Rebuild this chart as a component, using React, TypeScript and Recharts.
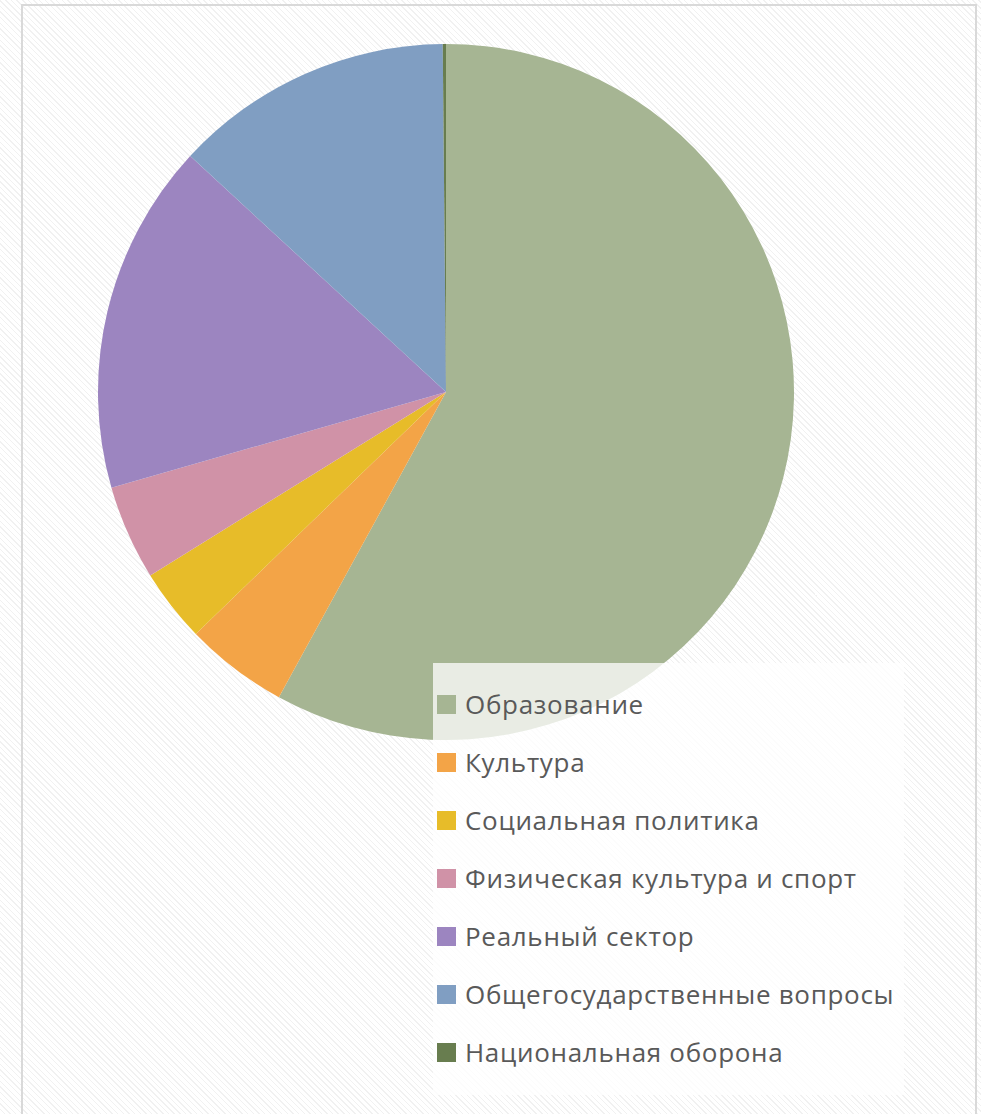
import React from 'react';
import { PieChart, Pie, Cell, Legend } from 'recharts';

const categories = [
  'Образование',
  'Культура',
  'Социальная политика',
  'Физическая культура и спорт',
  'Реальный сектор',
  'Общегосударственные вопросы',
  'Национальная оборона',
];
const shares = [58.0, 4.8, 3.4, 4.4, 16.3, 13.0, 0.15];
const colors = ['#a6b593', '#f3a447', '#e7bc29', '#d092a7', '#9c85c0', '#809ec2', '#687d4f'];

const data = categories.map((name, i) => ({ name, value: shares[i] }));

const renderLegend = () => (
  <div
    style={{
      width: '100%',
      height: '100%',
      background: 'rgba(255,255,255,0.75)',
      boxSizing: 'border-box',
      paddingTop: 12,
    }}
  >
    {categories.map((c, i) => (
      <div
        key={c}
        style={{
          display: 'flex',
          alignItems: 'center',
          height: 58,
          fontFamily: '"Open Sans", sans-serif',
          fontSize: 26,
          letterSpacing: 0.7,
          color: '#595959',
          whiteSpace: 'nowrap',
        }}
      >
        <span
          style={{
            display: 'inline-block',
            width: 19,
            height: 19,
            marginLeft: 4,
            marginRight: 9,
            background: colors[i],
          }}
        />
        <span>{c}</span>
      </div>
    ))}
  </div>
);

export default function App() {
  return (
    <div
      style={{
        position: 'absolute',
        left: 0,
        top: 0,
        width: 981,
        height: 1114,
        background: 'repeating-linear-gradient(45deg, #ffffff 0px, #ffffff 3px, #f1f1f1 3px, #f1f1f1 4px)',
        overflow: 'hidden',
      }}
    >
      <div
        style={{
          position: 'absolute',
          left: 21,
          top: 4,
          width: 956,
          height: 1120,
          border: '2px solid #d9d9d9',
          boxSizing: 'border-box',
        }}
      />
      <PieChart
        width={981}
        height={1114}
        margin={{ top: 0, right: 0, bottom: 0, left: 0 }}
        style={{ position: 'absolute', left: 0, top: 0 }}
      >
        <Pie
          data={data}
          dataKey="value"
          nameKey="name"
          cx={446}
          cy={392}
          outerRadius={348}
          startAngle={90}
          endAngle={-270}
          stroke="none"
          isAnimationActive={false}
        >
          {data.map((d, i) => (
            <Cell key={d.name} fill={colors[i]} />
          ))}
        </Pie>
        <Legend
          content={renderLegend}
          wrapperStyle={{ position: 'absolute', left: 433, top: 663, width: 471, height: 432, bottom: 'auto' }}
        />
      </PieChart>
    </div>
  );
}
